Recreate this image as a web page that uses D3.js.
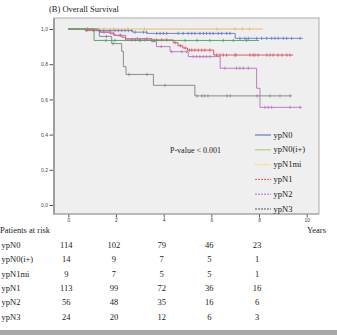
<!DOCTYPE html>
<html><head><meta charset="utf-8">
<script src="https://cdn.jsdelivr.net/npm/d3@7"></script>
<style>body{margin:0;background:#fff;}svg{display:block;}</style>
</head><body>
<svg id="c" width="337" height="335"></svg>
<script>
// ---- data ----
const groups = ["ypN0","ypN0(i+)","ypN1mi","ypN1","ypN2","ypN3"];
const xTicks = [0,2,4,6,8,10];
const yTicks = [0,0.2,0.4,0.6,0.8,1.0];
const riskTimes = [0,2,4,6,8];

const ypN0_t = [0,1.2,2.7,3.3,7.0];
const ypN0_s = [1,0.991,0.982,0.975,0.947];
const ypN0_end = 9.84;
const ypN0_c = [0.8,1.47,1.75,1.96,2.1,2.24,2.38,2.52,2.66,2.8,3.15,3.29,3.71,3.85,3.99,4.13,4.61,4.82,5.03,5.18,5.31,5.52,5.67,5.8,5.94,6.08,6.29,6.43,6.64,6.78,7.2,7.41,7.55,7.9,8.11,8.32,8.53,8.67,8.81,9.02,9.16,9.37,9.72];

const ypN0i_t = [0,1.08];
const ypN0i_s = [1,0.935];
const ypN0i_end = 8.0;
const ypN0i_c = [1.58,1.96,3.0,3.6,4.9,5.4,5.94,6.5,6.92,7.48];

const ypN1mi_t = [0];
const ypN1mi_s = [1];
const ypN1mi_end = 8.17;
const ypN1mi_c = [1.5,1.9,2.5,3.2,6.24,6.99,7.3,7.6];

const ypN1_t = [0,0.7,1.35,1.75,1.95,2.25,2.4,4.4,4.6,4.8,5.0,6.1];
const ypN1_s = [1,0.991,0.982,0.973,0.964,0.953,0.938,0.922,0.905,0.892,0.88,0.852];
const ypN1_end = 9.43;
const ypN1_c = [0.77,1.05,2.17,2.66,2.8,3.0,3.22,3.5,3.71,3.92,4.13,4.48,4.7,4.9,5.08,5.18,5.31,5.45,5.6,5.73,5.94,6.22,6.36,6.5,6.64,6.99,7.04,7.62,7.75,7.83,7.96,8.33,8.46,8.59,8.8,8.96,9.17,9.3];

const ypN2_t = [0,1.3,1.9,2.4,3.5,3.7,4.27,5.03,6.37,7.9,8.04];
const ypN2_s = [1,0.982,0.964,0.946,0.928,0.9,0.871,0.843,0.777,0.663,0.555];
const ypN2_end = 9.8;
const ypN2_c = [1.5,2.2,2.9,3.3,3.9,4.34,4.76,4.97,5.24,5.38,5.52,5.66,5.8,5.94,6.57,7.06,7.2,7.34,7.55,8.25,8.39,8.53,9.3,9.72];

const ypN3_t = [0,1.3,1.82,2.24,2.31,2.42,3.57,5.31];
const ypN3_s = [1,0.958,0.917,0.873,0.786,0.742,0.68,0.62];
const ypN3_end = 9.38;
const ypN3_c = [1.6,1.88,2.55,3.3,4.06,5.4,5.61,5.73,5.86,6.66,6.79,7.92,8.46,8.88,9.3];

const risk_ypN0 = [114,102,79,46,23];
const risk_ypN0i = [14,9,7,5,1];
const risk_ypN1mi = [9,7,5,5,1];
const risk_ypN1 = [113,99,72,36,16];
const risk_ypN2 = [56,48,35,16,6];
const risk_ypN3 = [24,20,12,6,3];

// ---- build ----
const series = [
  {name:"ypN0", t:ypN0_t, s:ypN0_s, end:ypN0_end, c:ypN0_c, col:"#5a78c8", leg:"#3555a8", dash:null, risk:risk_ypN0},
  {name:"ypN0(i+)", t:ypN0i_t, s:ypN0i_s, end:ypN0i_end, c:ypN0i_c, col:"#3fa15a", leg:"#8fd24a", dash:null, risk:risk_ypN0i},
  {name:"ypN1mi", t:ypN1mi_t, s:ypN1mi_s, end:ypN1mi_end, c:ypN1mi_c, col:"#f2b04e", leg:"#ffd23c", dash:"2,1", risk:risk_ypN1mi},
  {name:"ypN1", t:ypN1_t, s:ypN1_s, end:ypN1_end, c:ypN1_c, col:"#e2465a", leg:"#ff4040", dash:"2,1", risk:risk_ypN1},
  {name:"ypN2", t:ypN2_t, s:ypN2_s, end:ypN2_end, c:ypN2_c, col:"#b56fbb", leg:"#9a62c8", dash:"2,1", risk:risk_ypN2},
  {name:"ypN3", t:ypN3_t, s:ypN3_s, end:ypN3_end, c:ypN3_c, col:"#808080", leg:"#404040", dash:"2,1", risk:risk_ypN3}
];
const drawOrder = [3,4,5,0,2,1];

const svg = d3.select("#c");
const x = d3.scaleLinear().domain([0,10]).range([68.3,306.7]);
const y = d3.scaleLinear().domain([0,1]).range([205,29]);
const fL=54, fR=319, fT=18, fB=214;
const serif = "'Liberation Serif','DejaVu Serif',serif";

svg.append("text").attr("x",49).attr("y",12).attr("font-family",serif).attr("font-size",8.5).attr("fill","#222").text("(B) Overall Survival");

svg.append("rect").attr("x",fL).attr("y",fT).attr("width",fR-fL).attr("height",fB-fT).attr("fill","#efefef").attr("stroke","#9a9a9a").attr("stroke-width",0.8);
svg.append("line").attr("x1",fL).attr("x2",fL).attr("y1",fT).attr("y2",fB+0.5).attr("stroke","#a0a0a0").attr("stroke-width",2);
svg.append("line").attr("x1",fL).attr("x2",fR).attr("y1",fB).attr("y2",fB).attr("stroke","#a0a0a0").attr("stroke-width",1.2);

const fmt = d3.format(".1f");
const yAx = svg.append("g").attr("transform",`translate(${fL-1},0)`)
  .call(d3.axisLeft(y).tickValues(yTicks).tickFormat(d=>fmt(d).replace(".",",")).tickSize(3.5).tickPadding(1.5));
yAx.select(".domain").remove();
yAx.selectAll("text").attr("font-size",5).attr("font-family","'Liberation Sans',Arial,sans-serif").attr("fill","#444");
yAx.selectAll("line").attr("stroke","#555");

const xAx = svg.append("g").attr("transform",`translate(0,${fB+0.5})`)
  .call(d3.axisBottom(x).tickValues(xTicks).tickFormat(d3.format("d")).tickSize(3).tickPadding(1));
xAx.select(".domain").remove();
xAx.selectAll("text").attr("font-size",5).attr("font-family","'Liberation Sans',Arial,sans-serif").attr("fill","#444");
xAx.selectAll("line").attr("stroke","#555");

const line = d3.line().x(d=>x(d[0])).y(d=>y(d[1])).curve(d3.curveStepAfter);
function survAt(sr,t){let v=sr.s[0];for(let i=0;i<sr.t.length;i++){if(sr.t[i]<=t)v=sr.s[i];}return v;}

drawOrder.forEach(i=>{
  const sr = series[i];
  const pts = sr.t.map((t,k)=>[t,sr.s[k]]);
  pts.push([sr.end, sr.s[sr.s.length-1]]);
  svg.append("path").datum(pts).attr("d",line).attr("fill","none").attr("stroke",sr.col).attr("stroke-width",0.9);
  svg.append("g").selectAll("line").data(sr.c).join("line")
    .attr("x1",d=>x(d)).attr("x2",d=>x(d))
    .attr("y1",d=>y(survAt(sr,d))-1.6).attr("y2",d=>y(survAt(sr,d))+1.6)
    .attr("stroke",sr.col).attr("stroke-width",0.8);
});

svg.append("text").attr("x",170).attr("y",153).attr("font-family",serif).attr("font-size",8).attr("fill","#222").text("P-value < 0.001");

const leg = svg.append("g");
series.forEach((sr,i)=>{
  const cy = 135 + i*14.8;
  leg.append("line").attr("x1",255).attr("x2",271).attr("y1",cy).attr("y2",cy)
    .attr("stroke",sr.leg).attr("stroke-width",0.9).attr("stroke-dasharray",sr.dash);
  leg.append("text").attr("x",273.5).attr("y",cy+2.6).attr("font-family",serif).attr("font-size",8.5).attr("fill","#222").text(sr.name);
});

svg.append("text").attr("x",0).attr("y",233).attr("font-family",serif).attr("font-size",8.5).attr("fill","#222").text("Patients at risk");
svg.append("text").attr("x",307).attr("y",233).attr("font-family",serif).attr("font-size",8.5).attr("fill","#222").text("Years");

series.forEach((sr,i)=>{
  const by = 247.8 + i*14.4;
  svg.append("text").attr("x",1.5).attr("y",by).attr("font-family",serif).attr("font-size",8.5).attr("fill","#222").text(sr.name);
  svg.append("g").selectAll("text").data(sr.risk).join("text")
    .attr("x",(d,k)=>x(riskTimes[k])-2).attr("y",by).attr("text-anchor","middle")
    .attr("font-family",serif).attr("font-size",8.5).attr("fill","#222").text(d=>d);
});

svg.append("rect").attr("x",0).attr("y",330).attr("width",337).attr("height",5).attr("fill","#a8a8a8");
</script>
</body></html>
